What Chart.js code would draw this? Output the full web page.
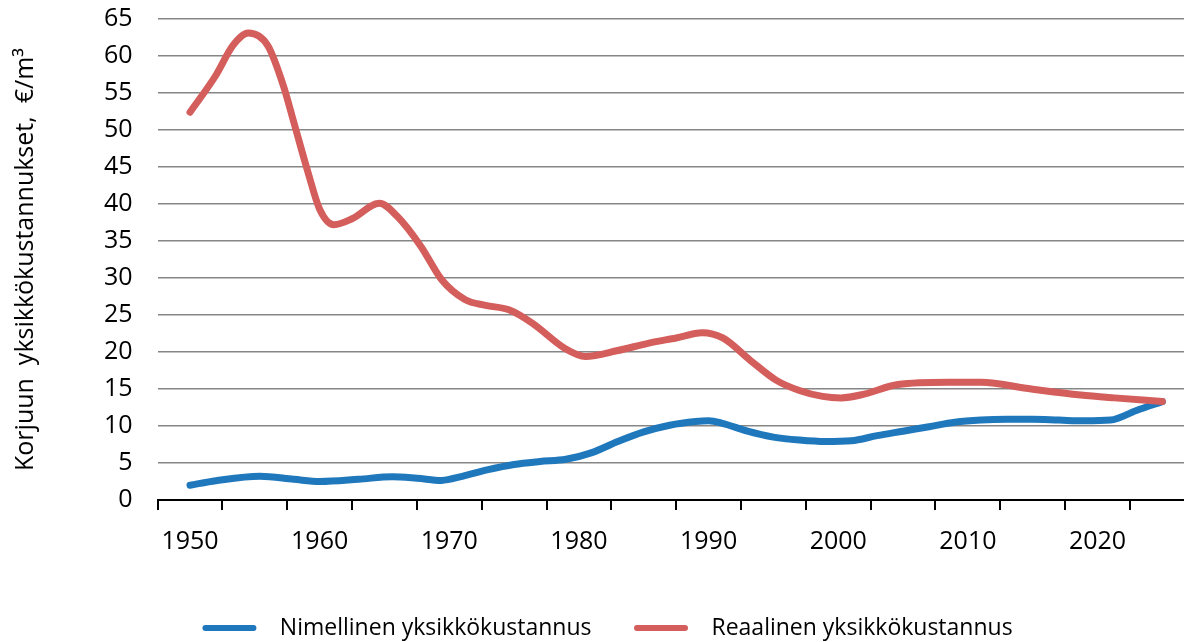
<!DOCTYPE html>
<html>
<head>
<meta charset="utf-8">
<script src="https://cdn.jsdelivr.net/npm/chart.js@4.4.0/dist/chart.umd.min.js"></script>
<style>
  html, body { margin: 0; padding: 0; background: #ffffff; }
  #wrap { width: 1184px; height: 642px; position: relative; }
</style>
</head>
<body>
<div id="wrap"><canvas id="c"></canvas></div>
<script>
// ---- data ----
const nominalYears  = [1950,1952,1955.4,1958,1960,1963,1965.6,1967.5,1969.4,1971,1973,1975,1977,1979,1981,1983,1985,1987,1989,1990,1991,1993,1995,1997,1999,2001,2003,2005,2007,2009,2011,2013,2015,2017,2019,2021,2023,2025];
const nominalValues = [2.0,2.6,3.2,2.8,2.5,2.8,3.15,2.95,2.65,3.2,4.1,4.8,5.2,5.5,6.4,7.9,9.2,10.1,10.6,10.7,10.4,9.3,8.5,8.1,7.9,8.0,8.7,9.3,9.9,10.5,10.8,10.9,10.9,10.8,10.7,10.8,12.1,13.3];
const realYears  = [1950,1952,1953.3,1954.5,1956,1957.2,1958,1959.1,1960,1961.1,1962.5,1964.6,1966,1967.8,1969.4,1971.2,1972.8,1974.6,1976.4,1978.9,1980.5,1983,1985.4,1987.5,1989.5,1991.1,1993.2,1995.2,1997,1998.8,2000.2,2002,2004.6,2008.5,2011,2014.9,2018.7,2021.3,2025];
const realValues = [52.4,57.4,61.4,63.1,61.4,56.0,51.1,44.3,39.3,37.2,38.0,40.1,38.3,34.3,29.8,27.1,26.3,25.7,23.9,20.5,19.4,20.2,21.2,21.9,22.6,21.9,18.9,16.2,14.8,14.0,13.8,14.3,15.6,15.9,15.9,15.0,14.2,13.8,13.3];
const seriesNames = ['Nimellinen yksikkökustannus', 'Reaalinen yksikkökustannus'];
const xLabelYears = [1950,1960,1970,1980,1990,2000,2010,2020];
const yAxisTitle = 'Korjuun  yksikkökustannukset,  €/m³';

const FONT = "'Open Sans', sans-serif";
const BLUE = '#1f78bc';
const RED = '#d45e5c';

const toPoints = (xs, ys) => xs.map((x, i) => ({ x: x, y: ys[i] }));

// nudges the centred legend row to the right, as in the reference
const legendShift = {
  id: 'legendShift',
  afterLayout(chart) {
    const lg = chart.legend;
    if (lg) { lg.left += 18; lg.right += 18; }
  }
};

new Chart(document.getElementById('c'), {
  type: 'line',
  plugins: [legendShift],
  data: {
    datasets: [
      {
        label: seriesNames[0],
        data: toPoints(nominalYears, nominalValues),
        borderColor: BLUE, backgroundColor: BLUE,
        borderWidth: 7, pointRadius: 0, cubicInterpolationMode: 'monotone',
        borderCapStyle: 'round', order: 1
      },
      {
        label: seriesNames[1],
        data: toPoints(realYears, realValues),
        borderColor: RED, backgroundColor: RED,
        borderWidth: 7, pointRadius: 0, cubicInterpolationMode: 'monotone',
        borderCapStyle: 'round', order: 0
      }
    ]
  },
  options: {
    responsive: true,
    maintainAspectRatio: false,
    animation: false,
    layout: { padding: { top: 1, left: 7, right: 0, bottom: -7.5 } },
    plugins: {
      tooltip: { enabled: false },
      legend: {
        position: 'bottom',
        labels: {
          font: { family: FONT, size: 23 },
          color: '#000',
          boxWidth: 54,
          boxHeight: 6,
          padding: 42.5,
          useBorderRadius: true,
          borderRadius: 3,
          sort: (a, b) => a.datasetIndex - b.datasetIndex,
          generateLabels: (chart) => {
            const items = Chart.defaults.plugins.legend.labels.generateLabels(chart);
            items.forEach((it, i) => {
              it.text = '  ' + it.text + (i === 0 ? '\u00A0\u00A0' : '');
              it.lineWidth = 0;
            });
            return items;
          }
        }
      }
    },
    scales: {
      x: {
        type: 'linear',
        min: 1947.5,
        max: 2026.67,
        afterBuildTicks: (scale) => {
          const t = [];
          for (let v = 1947.5; v <= 2025; v += 2.5) t.push({ value: v });
          scale.ticks = t;
        },
        ticks: {
          autoSkip: false,
          maxRotation: 0,
          padding: 17,
          color: '#000',
          font: { family: FONT, size: 25 },
          callback: (v) => (xLabelYears.includes(v) ? String(v) : '')
        },
        grid: {
          drawOnChartArea: false,
          drawTicks: true,
          tickLength: 10,
          lineWidth: 2,
          color: (ctx) => (ctx.tick && ((ctx.tick.value - 1947.5) % 5 === 0) ? '#000' : 'rgba(0,0,0,0)')
        },
        border: { display: true, color: '#000', width: 2 }
      },
      y: {
        min: 0,
        max: 65,
        ticks: {
          stepSize: 5,
          padding: 4,
          color: '#000',
          font: { family: FONT, size: 25 }
        },
        grid: { color: '#868686', lineWidth: 1.5, drawTicks: true, tickLength: 21, tickColor: 'rgba(0,0,0,0)' },
        border: { display: false },
        title: {
          display: true,
          text: yAxisTitle,
          color: '#000',
          font: { family: FONT, size: 25 },
          padding: { top: 4, bottom: 59 }
        }
      }
    }
  }
});
</script>
</body>
</html>
